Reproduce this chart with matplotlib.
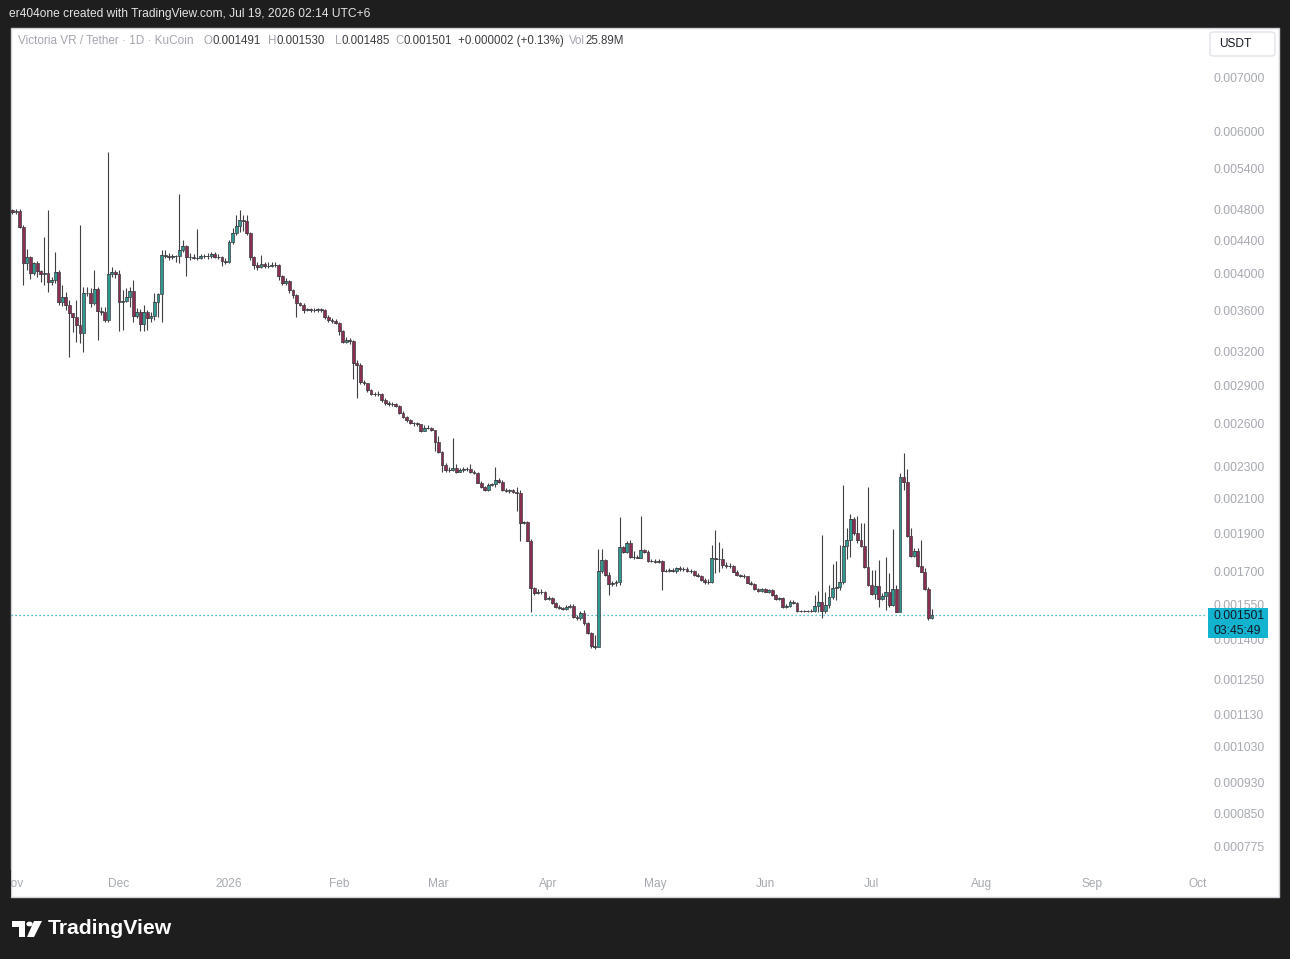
import matplotlib
matplotlib.use("Agg")
import matplotlib.pyplot as plt
import matplotlib.dates as mdates
from matplotlib.patches import Rectangle, FancyBboxPatch, Polygon, Circle
from matplotlib.ticker import NullLocator
import pandas as pd
import numpy as np

# ---------------- data (daily candles, VRA/USDT, KuCoin) ----------------
start_date = "2025-11-01"

opens = [
0.004789, 0.004773, 0.004776, 0.004572, 0.004116, 0.004191, 0.004000, 0.004116, 0.004027, 0.003989,
0.003998, 0.003905, 0.003924, 0.004012, 0.003687, 0.003734, 0.003653, 0.003567, 0.003532, 0.003449,
0.003368, 0.003777, 0.003781, 0.003670, 0.003821, 0.003594, 0.003580, 0.003499, 0.003992, 0.004015,
0.003992, 0.003684, 0.003698, 0.003734, 0.003802, 0.003542, 0.003583, 0.003459, 0.003583, 0.003516,
0.003539, 0.003687, 0.003770, 0.004215, 0.004203, 0.004195, 0.004203, 0.004207, 0.004276, 0.004326,
0.004195, 0.004196, 0.004183, 0.004185, 0.004203, 0.004199, 0.004203, 0.004228, 0.004195, 0.004194,
0.004147, 0.004135, 0.004379, 0.004486, 0.004585, 0.004660, 0.004653, 0.004486, 0.004195, 0.004096,
0.004077, 0.004108, 0.004088, 0.004085, 0.004096, 0.004091, 0.003969, 0.003894, 0.003913, 0.003813,
0.003759, 0.003670, 0.003653, 0.003601, 0.003608, 0.003598, 0.003596, 0.003606, 0.003601, 0.003526,
0.003499, 0.003492, 0.003472, 0.003393, 0.003288, 0.003304, 0.003295, 0.003096, 0.003076, 0.002932,
0.002918, 0.002863, 0.002830, 0.002831, 0.002833, 0.002782, 0.002756, 0.002748, 0.002747, 0.002735,
0.002683, 0.002652, 0.002627, 0.002602, 0.002603, 0.002597, 0.002548, 0.002570, 0.002571, 0.002553,
0.002469, 0.002399, 0.002309, 0.002277, 0.002276, 0.002288, 0.002265, 0.002277, 0.002281, 0.002283,
0.002265, 0.002255, 0.002195, 0.002170, 0.002150, 0.002181, 0.002185, 0.002212, 0.002201, 0.002150,
0.002143, 0.002147, 0.002139, 0.002133, 0.001954, 0.001961, 0.001859, 0.001622, 0.001599, 0.001606,
0.001607, 0.001573, 0.001576, 0.001557, 0.001539, 0.001532, 0.001527, 0.001536, 0.001542, 0.001495,
0.001488, 0.001513, 0.001467, 0.001426, 0.001375, 0.001372, 0.001704, 0.001759, 0.001685, 0.001642,
0.001645, 0.001653, 0.001827, 0.001801, 0.001845, 0.001776, 0.001773, 0.001770, 0.001810, 0.001801,
0.001755, 0.001756, 0.001751, 0.001754, 0.001704, 0.001705, 0.001709, 0.001707, 0.001718, 0.001712,
0.001714, 0.001704, 0.001705, 0.001685, 0.001680, 0.001661, 0.001654, 0.001650, 0.001768, 0.001763,
0.001762, 0.001734, 0.001729, 0.001727, 0.001701, 0.001685, 0.001680, 0.001679, 0.001648, 0.001642,
0.001617, 0.001610, 0.001617, 0.001606, 0.001614, 0.001591, 0.001573, 0.001576, 0.001539, 0.001542,
0.001558, 0.001554, 0.001520, 0.001519, 0.001520, 0.001519, 0.001520, 0.001543, 0.001558, 0.001521,
0.001546, 0.001581, 0.001622, 0.001627, 0.001653, 0.001831, 0.001863, 0.001977, 0.001899, 0.001863,
0.001831, 0.001722, 0.001637, 0.001594, 0.001634, 0.001573, 0.001587, 0.001604, 0.001546, 0.001617,
0.001517, 0.002229, 0.002201, 0.001884, 0.001779, 0.001805, 0.001729, 0.001701, 0.001619, 0.001491,
]

highs = [
0.004810, 0.004810, 0.004810, 0.004594, 0.004285, 0.004203, 0.004135, 0.004144, 0.004038, 0.004442,
0.004796, 0.003958, 0.004248, 0.004038, 0.003868, 0.003795, 0.003705, 0.003570, 0.003705, 0.004594,
0.003846, 0.003846, 0.003832, 0.004038, 0.003846, 0.003632, 0.003632, 0.005663, 0.004073, 0.004038,
0.004038, 0.003813, 0.003835, 0.003849, 0.003924, 0.003622, 0.003611, 0.003653, 0.003601, 0.003580,
0.003781, 0.003781, 0.004276, 0.004276, 0.004243, 0.004228, 0.004215, 0.005020, 0.004401, 0.004338,
0.004240, 0.004228, 0.004537, 0.004228, 0.004228, 0.004240, 0.004256, 0.004252, 0.004228, 0.004203,
0.004179, 0.004401, 0.004554, 0.004727, 0.004796, 0.004727, 0.004727, 0.004503, 0.004203, 0.004132,
0.004215, 0.004132, 0.004132, 0.004135, 0.004132, 0.004108, 0.003981, 0.003947, 0.003924, 0.003824,
0.003770, 0.003684, 0.003674, 0.003622, 0.003622, 0.003622, 0.003622, 0.003622, 0.003611, 0.003550,
0.003519, 0.003509, 0.003479, 0.003400, 0.003333, 0.003323, 0.003304, 0.003120, 0.003094, 0.002946,
0.002921, 0.002871, 0.002847, 0.002855, 0.002838, 0.002798, 0.002774, 0.002766, 0.002758, 0.002743,
0.002696, 0.002657, 0.002635, 0.002612, 0.002612, 0.002597, 0.002590, 0.002590, 0.002575, 0.002553,
0.002510, 0.002404, 0.002323, 0.002296, 0.002493, 0.002316, 0.002290, 0.002296, 0.002296, 0.002316,
0.002277, 0.002264, 0.002206, 0.002174, 0.002193, 0.002193, 0.002298, 0.002225, 0.002212, 0.002162,
0.002156, 0.002156, 0.002170, 0.002150, 0.001967, 0.001967, 0.001868, 0.001628, 0.001619, 0.001619,
0.001610, 0.001587, 0.001582, 0.001560, 0.001546, 0.001537, 0.001546, 0.001551, 0.001551, 0.001503,
0.001520, 0.001524, 0.001473, 0.001431, 0.001419, 0.001814, 0.001814, 0.001763, 0.001700, 0.001656,
0.001661, 0.001991, 0.001831, 0.001857, 0.001863, 0.001805, 0.001784, 0.001995, 0.001815, 0.001810,
0.001764, 0.001764, 0.001764, 0.001759, 0.001714, 0.001719, 0.001719, 0.001724, 0.001729, 0.001724,
0.001724, 0.001714, 0.001709, 0.001695, 0.001685, 0.001671, 0.001666, 0.001836, 0.001917, 0.001854,
0.001821, 0.001749, 0.001744, 0.001734, 0.001709, 0.001690, 0.001690, 0.001680, 0.001656, 0.001647,
0.001623, 0.001623, 0.001623, 0.001619, 0.001619, 0.001596, 0.001582, 0.001582, 0.001551, 0.001569,
0.001569, 0.001560, 0.001524, 0.001524, 0.001524, 0.001529, 0.001591, 0.001610, 0.001890, 0.001606,
0.001637, 0.001739, 0.001755, 0.001836, 0.002181, 0.001926, 0.002007, 0.001991, 0.001995, 0.001957,
0.001954, 0.002166, 0.001709, 0.001709, 0.001759, 0.001600, 0.001776, 0.001694, 0.001921, 0.001637,
0.002255, 0.002388, 0.002281, 0.001926, 0.001819, 0.001819, 0.001863, 0.001719, 0.001628, 0.001530,
]

lows = [
0.004741, 0.004741, 0.004554, 0.003868, 0.004038, 0.003932, 0.003981, 0.003961, 0.003898, 0.003868,
0.003795, 0.003868, 0.003890, 0.003653, 0.003642, 0.003601, 0.003150, 0.003384, 0.003288, 0.003276,
0.003195, 0.003748, 0.003635, 0.003653, 0.003304, 0.003550, 0.003479, 0.003479, 0.003958, 0.003947,
0.003390, 0.003400, 0.003684, 0.003635, 0.003482, 0.003519, 0.003390, 0.003390, 0.003400, 0.003479,
0.003499, 0.003532, 0.003482, 0.004179, 0.004156, 0.004167, 0.004135, 0.004116, 0.004252, 0.003969,
0.004156, 0.004167, 0.004156, 0.004167, 0.004179, 0.004167, 0.004175, 0.004179, 0.004167, 0.004085,
0.004108, 0.004116, 0.004351, 0.004464, 0.004507, 0.004516, 0.004464, 0.004156, 0.004046, 0.004038,
0.004061, 0.004061, 0.004061, 0.004073, 0.004073, 0.003924, 0.003868, 0.003868, 0.003777, 0.003727,
0.003532, 0.003642, 0.003570, 0.003590, 0.003580, 0.003580, 0.003580, 0.003580, 0.003509, 0.003479,
0.003469, 0.003459, 0.003352, 0.003273, 0.003276, 0.003267, 0.002952, 0.002796, 0.002910, 0.002904,
0.002847, 0.002822, 0.002814, 0.002814, 0.002766, 0.002743, 0.002735, 0.002735, 0.002727, 0.002673,
0.002642, 0.002612, 0.002597, 0.002582, 0.002582, 0.002538, 0.002546, 0.002560, 0.002546, 0.002406,
0.002388, 0.002265, 0.002265, 0.002264, 0.002270, 0.002257, 0.002264, 0.002264, 0.002267, 0.002257,
0.002251, 0.002193, 0.002162, 0.002143, 0.002143, 0.002174, 0.002168, 0.002193, 0.002143, 0.002137,
0.002131, 0.002131, 0.002026, 0.001859, 0.001950, 0.001858, 0.001517, 0.001591, 0.001596, 0.001596,
0.001569, 0.001569, 0.001551, 0.001533, 0.001529, 0.001524, 0.001524, 0.001533, 0.001490, 0.001481,
0.001481, 0.001460, 0.001423, 0.001366, 0.001362, 0.001371, 0.001696, 0.001680, 0.001591, 0.001635,
0.001633, 0.001637, 0.001795, 0.001795, 0.001768, 0.001764, 0.001767, 0.001768, 0.001795, 0.001749,
0.001749, 0.001744, 0.001744, 0.001614, 0.001700, 0.001700, 0.001700, 0.001695, 0.001704, 0.001704,
0.001700, 0.001695, 0.001680, 0.001675, 0.001656, 0.001642, 0.001640, 0.001645, 0.001694, 0.001701,
0.001719, 0.001719, 0.001719, 0.001700, 0.001680, 0.001675, 0.001671, 0.001647, 0.001637, 0.001614,
0.001605, 0.001605, 0.001605, 0.001600, 0.001587, 0.001569, 0.001569, 0.001535, 0.001533, 0.001537,
0.001551, 0.001516, 0.001516, 0.001516, 0.001516, 0.001516, 0.001516, 0.001517, 0.001488, 0.001510,
0.001533, 0.001572, 0.001569, 0.001614, 0.001642, 0.001763, 0.001776, 0.001890, 0.001845, 0.001826,
0.001719, 0.001635, 0.001591, 0.001572, 0.001539, 0.001569, 0.001524, 0.001539, 0.001543, 0.001516,
0.001516, 0.002150, 0.001881, 0.001776, 0.001776, 0.001726, 0.001698, 0.001614, 0.001481, 0.001485,
]

closes = [
0.004773, 0.004776, 0.004572, 0.004116, 0.004191, 0.004000, 0.004116, 0.004027, 0.003989, 0.003998,
0.003905, 0.003924, 0.004012, 0.003687, 0.003734, 0.003653, 0.003567, 0.003532, 0.003449, 0.003368,
0.003777, 0.003781, 0.003670, 0.003821, 0.003594, 0.003580, 0.003499, 0.003992, 0.004015, 0.003992,
0.003684, 0.003698, 0.003734, 0.003802, 0.003542, 0.003583, 0.003459, 0.003583, 0.003516, 0.003539,
0.003687, 0.003770, 0.004215, 0.004203, 0.004195, 0.004203, 0.004207, 0.004276, 0.004326, 0.004195,
0.004196, 0.004183, 0.004185, 0.004203, 0.004199, 0.004203, 0.004228, 0.004195, 0.004194, 0.004147,
0.004135, 0.004379, 0.004486, 0.004585, 0.004660, 0.004653, 0.004486, 0.004195, 0.004096, 0.004077,
0.004108, 0.004088, 0.004085, 0.004096, 0.004091, 0.003969, 0.003894, 0.003913, 0.003813, 0.003759,
0.003670, 0.003653, 0.003601, 0.003608, 0.003598, 0.003596, 0.003606, 0.003601, 0.003526, 0.003499,
0.003492, 0.003472, 0.003393, 0.003288, 0.003304, 0.003295, 0.003096, 0.003076, 0.002932, 0.002918,
0.002863, 0.002830, 0.002831, 0.002833, 0.002782, 0.002756, 0.002748, 0.002747, 0.002735, 0.002683,
0.002652, 0.002627, 0.002602, 0.002603, 0.002597, 0.002548, 0.002570, 0.002571, 0.002553, 0.002469,
0.002399, 0.002309, 0.002277, 0.002276, 0.002288, 0.002265, 0.002277, 0.002281, 0.002283, 0.002265,
0.002255, 0.002195, 0.002170, 0.002150, 0.002181, 0.002185, 0.002212, 0.002201, 0.002150, 0.002143,
0.002147, 0.002139, 0.002133, 0.001954, 0.001961, 0.001859, 0.001622, 0.001599, 0.001606, 0.001607,
0.001573, 0.001576, 0.001557, 0.001539, 0.001532, 0.001527, 0.001536, 0.001542, 0.001495, 0.001488,
0.001513, 0.001467, 0.001426, 0.001375, 0.001372, 0.001704, 0.001759, 0.001685, 0.001642, 0.001645,
0.001653, 0.001827, 0.001801, 0.001845, 0.001776, 0.001773, 0.001770, 0.001810, 0.001801, 0.001755,
0.001756, 0.001751, 0.001754, 0.001704, 0.001705, 0.001709, 0.001707, 0.001718, 0.001712, 0.001714,
0.001704, 0.001705, 0.001685, 0.001680, 0.001661, 0.001654, 0.001650, 0.001768, 0.001763, 0.001762,
0.001734, 0.001729, 0.001727, 0.001701, 0.001685, 0.001680, 0.001679, 0.001648, 0.001642, 0.001617,
0.001610, 0.001617, 0.001606, 0.001614, 0.001591, 0.001573, 0.001576, 0.001539, 0.001542, 0.001558,
0.001554, 0.001520, 0.001519, 0.001520, 0.001519, 0.001520, 0.001543, 0.001558, 0.001521, 0.001546,
0.001581, 0.001622, 0.001627, 0.001653, 0.001831, 0.001863, 0.001977, 0.001899, 0.001863, 0.001831,
0.001722, 0.001637, 0.001594, 0.001634, 0.001573, 0.001587, 0.001604, 0.001546, 0.001617, 0.001517,
0.002229, 0.002201, 0.001884, 0.001779, 0.001805, 0.001729, 0.001701, 0.001619, 0.001491, 0.001501,
]

price_ticks = [0.007000, 0.006000, 0.005400, 0.004800, 0.004400, 0.004000, 0.003600,
               0.003200, 0.002900, 0.002600, 0.002300, 0.002100, 0.001900, 0.001700,
               0.001550, 0.001400, 0.001250, 0.001130, 0.001030, 0.000930, 0.000850, 0.000775]
month_ticks = ["2025-11-01", "2025-12-01", "2026-01-01", "2026-02-01", "2026-03-01",
               "2026-04-01", "2026-05-01", "2026-06-01", "2026-07-01", "2026-08-01",
               "2026-09-01", "2026-10-01"]
month_labels = ["Nov", "Dec", "2026", "Feb", "Mar", "Apr", "May", "Jun", "Jul", "Aug", "Sep", "Oct"]

last_price = 0.001501
countdown = "03:45:49"
symbol_title = "Victoria VR / Tether · 1D · KuCoin"
# legend groups: (label, value, left x in px)
legend_groups = [
    ("O", "0.001491", 204), ("H", "0.001530", 268), ("L", "0.001485", 335),
    ("C", "0.001501", 395), ("", "+0.000002 (+0.13%)", 458), ("Vol", "25.89M", 569),
]
header_text = "er404one created with TradingView.com, Jul 19, 2026 02:14 UTC+6"

# ---------------- figure ----------------
W, H = 1290, 959
plt.rcParams['font.family'] = ['Liberation Sans', 'DejaVu Sans']
fig = plt.figure(figsize=(W / 100, H / 100), dpi=100)
fig.patch.set_facecolor("#1e1e1e")

def fx(x):
    return x / W

def fy(y):
    return 1 - y / H

# white chart panel
panel = Rectangle((fx(11), fy(897)), fx(1279) - fx(11), fy(28) - fy(897),
                  transform=fig.transFigure, facecolor="white", edgecolor="#cfd1d6",
                  linewidth=1.0, zorder=0)
fig.patches.append(panel)

ax = fig.add_axes([fx(11), fy(870), fx(1207) - fx(11), fy(28) - fy(870)], zorder=1)
ax.set_facecolor("none")

dates = pd.date_range(start_date, periods=len(closes), freq="D")
xs = mdates.date2num(dates)
o = np.array(opens); h = np.array(highs); l = np.array(lows); c = np.array(closes)
up = c >= o

up_fill, dn_fill, edge = "#2f9890", "#8c2d53", "#3f3f44"

ax.vlines(xs, l, h, color=edge, linewidth=0.8, zorder=2)
bottoms = np.minimum(o, c)
heights = np.abs(c - o)
ax.bar(xs[up], heights[up], width=0.8, bottom=bottoms[up], color=up_fill,
       edgecolor=edge, linewidth=0.5, zorder=3)
ax.bar(xs[~up], heights[~up], width=0.8, bottom=bottoms[~up], color=dn_fill,
       edgecolor=edge, linewidth=0.5, zorder=3)
ax.hlines(c, xs - 0.4, xs + 0.4, color=edge, linewidth=0.6, zorder=3)

ax.set_yscale("log")
x0 = mdates.date2num(pd.Timestamp(start_date))
ax.set_xlim(x0 - 0.4225, x0 + 336.48)
ax.set_ylim(0.00072368, 0.0080782)

ax.axhline(last_price, color="#1fa9c4", linewidth=0.9, linestyle=(0, (1, 2.2)), zorder=1)

ax.yaxis.tick_right()
ax.set_yticks(price_ticks)
ax.set_yticklabels([f"{t:.6f}" for t in price_ticks])
ax.yaxis.set_minor_locator(NullLocator())
ax.set_xticks(mdates.date2num(pd.to_datetime(month_ticks)))
ax.set_xticklabels(month_labels)
ax.xaxis.set_minor_locator(NullLocator())
ax.tick_params(axis="y", length=0, pad=5, labelsize=8.8, labelcolor="#a6a9b0")
ax.tick_params(axis="x", length=0, pad=6, labelsize=8.6, labelcolor="#a6a9b0")
for s in ax.spines.values():
    s.set_visible(False)

# mask left of panel on the time axis row (so 'Nov' appears cut)
fig.patches.append(Rectangle((0, fy(897)), fx(10.5), fy(870) - fy(897),
                             transform=fig.transFigure, facecolor="#1e1e1e",
                             edgecolor="none", zorder=10))

# header + legend
fig.text(fx(9), fy(14), header_text, color="#e4e4e4", fontsize=8.65, va="center", ha="left")
renderer = fig.canvas.get_renderer()
fig.text(fx(18), fy(41), symbol_title, color="#a3a6ae", fontsize=8.5, va="center", ha="left")
for lab, val, xl in legend_groups:
    xcur = float(xl)
    if lab:
        t = fig.text(fx(xcur), fy(41), lab, color="#a3a6ae", fontsize=8.3,
                     va="center", ha="left")
        xcur += t.get_window_extent(renderer=renderer).width
    fig.text(fx(xcur), fy(41), val, color="#3b3d42", fontsize=8.3, va="center", ha="left")

# USDT box
fig.patches.append(FancyBboxPatch((fx(1210), fy(56)), fx(1275) - fx(1210), fy(32) - fy(56),
                                  boxstyle="round,pad=0,rounding_size=0.003",
                                  transform=fig.transFigure, facecolor="white",
                                  edgecolor="#e0e3eb", linewidth=1.0, zorder=5))
fig.text(fx(1219), fy(44), "USDT", color="#131722", fontsize=8.6, va="center", ha="left", zorder=6)

# last price label
fig.patches.append(Rectangle((fx(1208), fy(638)), fx(1268) - fx(1208), fy(608) - fy(638),
                             transform=fig.transFigure, facecolor="#12b3cf",
                             edgecolor="none", zorder=5))
fig.text(fx(1214), fy(616), f"{last_price:.6f}", color="#131722", fontsize=8.8,
         va="center", ha="left", zorder=6)
fig.text(fx(1214), fy(631), countdown, color="#131722", fontsize=8.8,
         va="center", ha="left", zorder=6)

# TradingView logo (footer)
fig.patches.append(Polygon([(fx(12), fy(921)), (fx(25), fy(921)), (fx(25), fy(937)),
                            (fx(19), fy(937)), (fx(19), fy(927)), (fx(12), fy(927))],
                           closed=True, transform=fig.transFigure, facecolor="white",
                           edgecolor="none", zorder=5))
fig.patches.append(Circle((fx(29.5), fy(924)), 3.2 / W, transform=fig.transFigure,
                          facecolor="white", edgecolor="none", zorder=5))
fig.patches.append(Polygon([(fx(34), fy(921)), (fx(42), fy(921)), (fx(34), fy(937)),
                            (fx(27), fy(937))],
                           closed=True, transform=fig.transFigure, facecolor="white",
                           edgecolor="none", zorder=5))
fig.text(fx(48), fy(929), "TradingView", color="white", fontsize=15.2, fontweight="bold",
         va="center", ha="left")

fig.savefig("out.png", dpi=100, facecolor=fig.get_facecolor())
